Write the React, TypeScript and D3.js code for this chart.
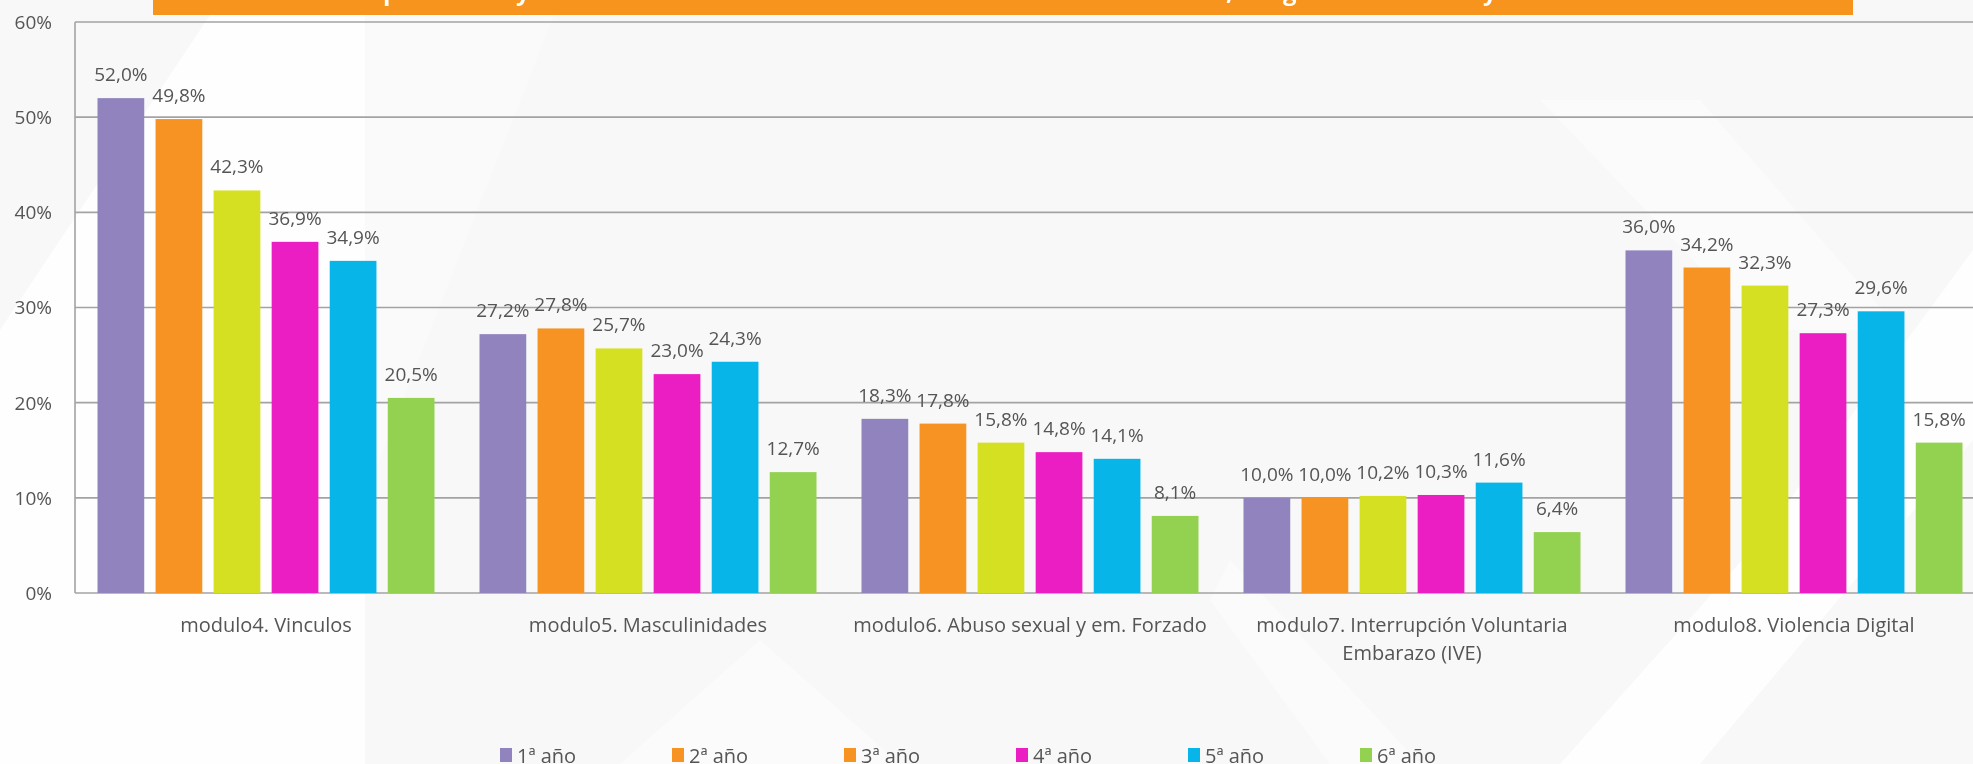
import React from "react";
import * as d3 from "d3";

const categories = [
  "modulo4. Vinculos",
  "modulo5. Masculinidades",
  "modulo6. Abuso sexual y em. Forzado",
  "modulo7. Interrupción Voluntaria Embarazo (IVE)",
  "modulo8. Violencia Digital",
];

const seriesNames = ["1ª año", "2ª año", "3ª año", "4ª año", "5ª año", "6ª año"];

// one array per year, values in % per modulo
const year1 = [52.0, 27.2, 18.3, 10.0, 36.0];
const year2 = [49.8, 27.8, 17.8, 10.0, 34.2];
const year3 = [42.3, 25.7, 15.8, 10.2, 32.3];
const year4 = [36.9, 23.0, 14.8, 10.3, 27.3];
const year5 = [34.9, 24.3, 14.1, 11.6, 29.6];
const year6 = [20.5, 12.7, 8.1, 6.4, 15.8];

const barColors = ["#9183BE", "#F69322", "#D6E023", "#EA1EC3", "#07B5E8", "#93D150"];
// legend in the original shows 3ª año with the orange swatch
const legendColors = ["#9183BE", "#F69322", "#F69322", "#EA1EC3", "#07B5E8", "#93D150"];

const yTicks = [0, 10, 20, 30, 40, 50, 60];

// fragments of the clipped title banner
const titleBits = [
  { t: "p", x: 383 },
  { t: "y", x: 516 },
  { t: ",", x: 1226 },
  { t: "g", x: 1283 },
  { t: "y", x: 1483 },
];

const W = 1973;
const H = 764;
const FONT = "'Open Sans', 'Noto Sans', sans-serif";
const TXT = "#555555";

const fmt = (v: number) => v.toFixed(1).replace(".", ",") + "%";

let ctx: CanvasRenderingContext2D | null = null;
const wrap = (s: string, maxW: number, font: string) => {
  if (!ctx) ctx = document.createElement("canvas").getContext("2d");
  ctx!.font = font;
  const words = s.split(" ");
  const lines: string[] = [];
  let cur = "";
  words.forEach((w) => {
    const t = cur ? cur + " " + w : w;
    if (ctx!.measureText(t).width > maxW && cur) {
      lines.push(cur);
      cur = w;
    } else cur = t;
  });
  if (cur) lines.push(cur);
  return lines;
};

export default function App() {
  const series = [year1, year2, year3, year4, year5, year6];

  const margin = { left: 75, top: 22, bottom: 593 };
  const y = d3.scaleLinear().domain([0, 60]).range([margin.bottom, margin.top]);
  const x0 = d3.scaleBand<string>().domain(categories).range([75, 1985]).padding(0);
  const x1 = d3
    .scaleBand<number>()
    .domain(d3.range(seriesNames.length))
    .range([22.5, x0.bandwidth() - 22.5])
    .paddingInner(0.195)
    .paddingOuter(0);

  return (
    <svg
      width={W}
      height={H}
      style={{ position: "absolute", left: 0, top: 0, fontFamily: FONT }}
    >
      {/* backdrop */}
      <rect width={W} height={H} fill="#f8f8f8" />
      <g fill="#ffffff" opacity={0.8}>
        <polygon points="220,0 365,0 365,764 0,764 0,330" />
        <polygon points="365,0 560,0 260,764 0,764" opacity={0.4} />
        <polygon points="1330,764 1560,764 1760,540 1973,250 1973,440 1700,764" />
        <polygon points="1230,560 1420,764 1330,764 1210,600" opacity={0.6} />
        <polygon points="1540,100 1700,100 1900,330 1760,330" opacity={0.5} />
        <polygon points="620,764 760,640 900,764" opacity={0.6} />
      </g>

      {/* title banner, cut off at the top */}
      <rect x={153} y={0} width={1700} height={15} fill="#F7941E" />
      {titleBits.map((b, i) => (
        <text key={i} x={b.x} y={0} fill="#fff" fontSize={24} fontWeight={700}>
          {b.t}
        </text>
      ))}

      {/* gridlines */}
      {yTicks.map((t) => (
        <g key={t}>
          <line x1={margin.left} x2={W} y1={y(t)} y2={y(t)} stroke="#a3a3a3" strokeWidth={1.6} />
          <text x={52} y={y(t)} dy="0.36em" textAnchor="end" fontSize={19} fill={TXT}>
            {t}%
          </text>
        </g>
      ))}
      <line x1={margin.left} x2={margin.left} y1={y(60)} y2={y(0)} stroke="#a3a3a3" strokeWidth={1.6} />

      {/* bars */}
      {categories.map((c, ci) => (
        <g key={c} transform={`translate(${x0(c)},0)`}>
          {series.map((vals, si) => (
            <rect
              key={si}
              x={x1(si)}
              y={y(vals[ci])}
              width={x1.bandwidth()}
              height={y(0) - y(vals[ci])}
              fill={barColors[si]}
            />
          ))}
          {series.map((vals, si) => (
            <text
              key={"l" + si}
              x={(x1(si) as number) + x1.bandwidth() / 2}
              y={y(vals[ci]) - 17}
              textAnchor="middle"
              fontSize={19}
              fill={TXT}
            >
              {fmt(vals[ci])}
            </text>
          ))}
          {wrap(c, 375, `20px ${FONT}`).map((ln, li) => (
            <text
              key={"c" + li}
              x={x0.bandwidth() / 2}
              y={632 + li * 28}
              textAnchor="middle"
              fontSize={20}
              fill={TXT}
            >
              {ln}
            </text>
          ))}
        </g>
      ))}

      {/* legend */}
      {seriesNames.map((s, i) => (
        <g key={s} transform={`translate(${500 + i * 172},0)`}>
          <rect x={0} y={748} width={12} height={14} fill={legendColors[i]} />
          <text x={17} y={763} fontSize={20} fill={TXT}>
            {s}
          </text>
        </g>
      ))}
    </svg>
  );
}
